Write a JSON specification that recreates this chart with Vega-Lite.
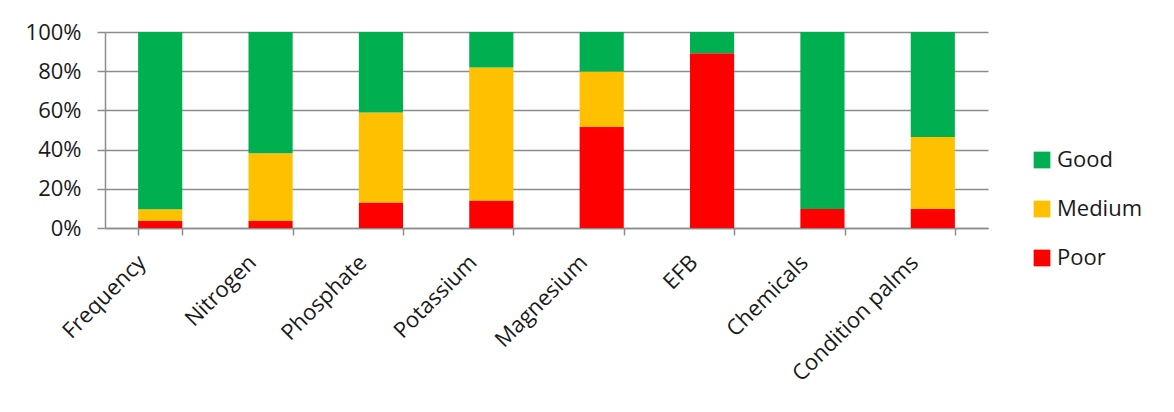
{
  "$schema": "https://vega.github.io/schema/vega-lite/v6.json",
  "width": 883,
  "height": 196,
  "autosize": "none",
  "padding": {"left": 105, "top": 32, "right": 186, "bottom": 184},
  "background": "white",
  "data": {
    "values": [
      {"item": "Frequency", "rating": "Poor", "share": 3.6},
      {"item": "Frequency", "rating": "Medium", "share": 6.0},
      {"item": "Frequency", "rating": "Good", "share": 90.4},
      {"item": "Nitrogen", "rating": "Poor", "share": 3.6},
      {"item": "Nitrogen", "rating": "Medium", "share": 34.5},
      {"item": "Nitrogen", "rating": "Good", "share": 61.9},
      {"item": "Phosphate", "rating": "Poor", "share": 13.0},
      {"item": "Phosphate", "rating": "Medium", "share": 45.9},
      {"item": "Phosphate", "rating": "Good", "share": 41.1},
      {"item": "Potassium", "rating": "Poor", "share": 14.0},
      {"item": "Potassium", "rating": "Medium", "share": 67.9},
      {"item": "Potassium", "rating": "Good", "share": 18.1},
      {"item": "Magnesium", "rating": "Poor", "share": 51.5},
      {"item": "Magnesium", "rating": "Medium", "share": 28.4},
      {"item": "Magnesium", "rating": "Good", "share": 20.1},
      {"item": "EFB", "rating": "Poor", "share": 89.2},
      {"item": "EFB", "rating": "Medium", "share": 0},
      {"item": "EFB", "rating": "Good", "share": 10.8},
      {"item": "Chemicals", "rating": "Poor", "share": 9.7},
      {"item": "Chemicals", "rating": "Medium", "share": 0},
      {"item": "Chemicals", "rating": "Good", "share": 90.3},
      {"item": "Condition palms", "rating": "Poor", "share": 9.7},
      {"item": "Condition palms", "rating": "Medium", "share": 36.7},
      {"item": "Condition palms", "rating": "Good", "share": 53.6}
    ]
  },
  "mark": {"type": "bar"},
  "encoding": {
    "x": {
      "field": "item",
      "type": "nominal",
      "sort": null,
      "title": null,
      "scale": {"paddingInner": 0.6, "paddingOuter": 0.3},
      "axis": {
        "labelAngle": -45,
        "labelAlign": "right",
        "labelBaseline": "bottom",
        "labelPadding": 32,
        "labelOffset": -10,
        "tickBand": "extent",
        "tickSize": 7,
        "labelFontSize": 22
      }
    },
    "y": {
      "field": "share",
      "type": "quantitative",
      "stack": "normalize",
      "title": null,
      "scale": {"domain": [0, 1]},
      "axis": {
        "values": [0, 0.2, 0.4, 0.6, 0.8, 1],
        "format": ".0%",
        "grid": true,
        "tickSize": 8,
        "labelPadding": 16,
        "labelFontSize": 22
      }
    },
    "color": {
      "field": "rating",
      "type": "nominal",
      "title": null,
      "scale": {
        "domain": ["Good", "Medium", "Poor"],
        "range": ["#00B050", "#FFC000", "#FF0000"]
      },
      "legend": {
        "orient": "none",
        "legendX": 926,
        "legendY": 117,
        "symbolType": "square",
        "symbolSize": 280,
        "symbolStrokeWidth": 0,
        "labelFontSize": 22,
        "labelOffset": 4,
        "rowPadding": 27,
        "padding": 0
      }
    },
    "order": {"field": "rating", "sort": "descending"}
  },
  "config": {
    "view": {"stroke": null},
    "font": "Open Sans",
    "axis": {
      "labelFont": "Open Sans",
      "labelColor": "#1a1a1a",
      "domainColor": "#8c8c8c",
      "domainWidth": 1.5,
      "tickColor": "#8c8c8c",
      "tickWidth": 1.5,
      "gridColor": "#8c8c8c",
      "gridWidth": 1.5
    },
    "legend": {
      "labelFont": "Open Sans",
      "labelColor": "#1a1a1a",
      "symbolOpacity": 1
    }
  }
}
